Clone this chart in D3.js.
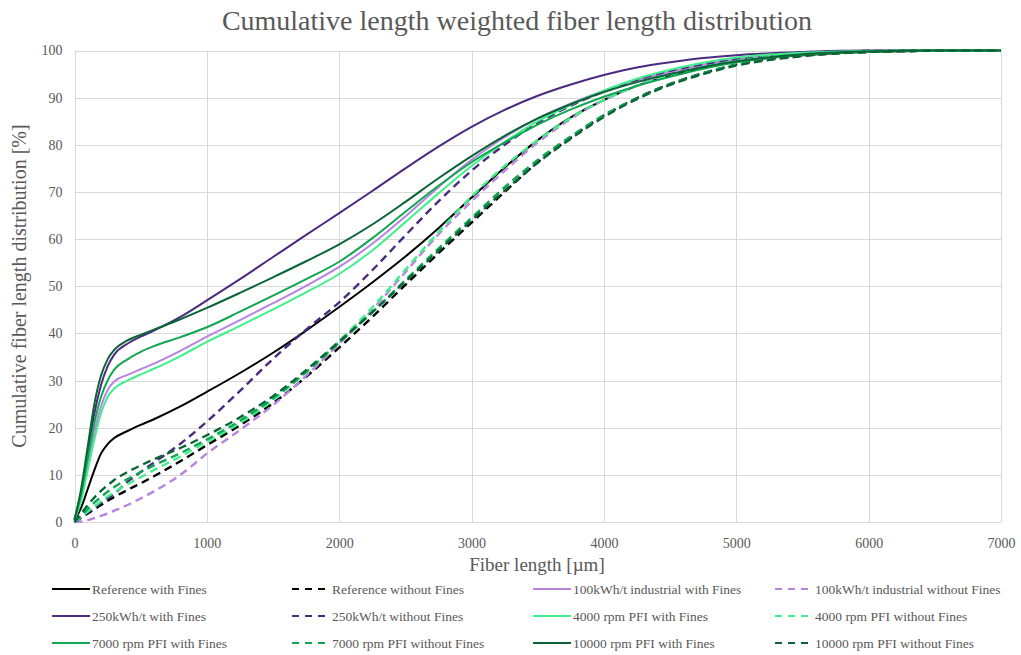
<!DOCTYPE html>
<html>
<head>
<meta charset="utf-8">
<script src="https://cdn.jsdelivr.net/npm/d3@7"></script>
<style>
  html, body { margin: 0; padding: 0; background: #ffffff; }
  svg { display: block; font-family: "Liberation Serif", "Times New Roman", serif; }
</style>
</head>
<body>
<svg id="chart" width="1021" height="655"></svg>
<script>
// Fiber length sample points [µm]
const fiberLength = [0, 50, 100, 150, 200, 250, 300, 400, 500, 600, 800, 1000, 1250, 1500, 1750, 2000,
  2250, 2500, 2750, 3000, 3250, 3500, 3750, 4000, 4250, 4500, 4750, 5000, 5500, 6000, 6500, 7000];

// Cumulative length weighted distribution [%] per pulp
const refWith = [0.5, 3, 7, 11, 14.5, 16.5, 17.8, 19.3, 20.6, 21.8, 24.5, 27.6, 31.6, 35.9, 40.6, 45.6,
  50.8, 56.3, 62.3, 68.8, 75.2, 81, 85.8, 89.5, 92.5, 94.6, 96.3, 97.6, 99, 99.7, 99.9, 100];
const refWithout = [0, 0.9, 1.8, 2.7, 3.6, 4.5, 5.3, 6.8, 8.2, 9.7, 12.9, 16.3, 20.5, 25.2, 30.8, 37,
  43.5, 50.3, 57, 63.5, 70, 76.3, 81.5, 86.2, 89.9, 92.9, 95.2, 97, 98.9, 99.7, 99.95, 100];
const ind100With = [0.5, 5, 12, 19, 24.5, 28, 29.8, 31.2, 32.4, 33.6, 36.3, 39.3, 42.8, 46.4, 50.1, 54.1,
  59, 64.8, 71, 76.8, 81.6, 85.6, 88.8, 91.5, 93.7, 95.5, 97, 98.2, 99.5, 99.9, 100, 100];
const ind100Without = [0, 0.1, 0.4, 0.8, 1.3, 1.8, 2.4, 3.6, 5, 6.5, 10, 14.5, 19.5, 24.8, 31, 37.8,
  45, 53, 61, 68, 74.5, 80.5, 85.5, 89.5, 92.6, 95, 96.8, 98, 99.3, 99.9, 100, 100];
const kwh250With = [0.5, 6, 14.5, 23, 29, 33, 35.5, 37.8, 39.3, 40.6, 43.5, 47, 51.5, 56.2, 60.9, 65.5,
  70.2, 75, 79.6, 83.8, 87.4, 90.4, 92.8, 94.8, 96.4, 97.5, 98.4, 99, 99.7, 100, 100, 100];
const kwh250Without = [0, 1, 2, 3, 4, 5, 6, 8.5, 10.6, 12.6, 16.6, 21.3, 27.8, 34.6, 40.8, 46.6,
  53.4, 60.8, 68, 74.5, 80, 84.6, 88.3, 91.3, 93.8, 95.7, 97.1, 98.2, 99.5, 99.9, 100, 100];
const pfi4000With = [0.5, 4.5, 11, 17.5, 23, 26.5, 28.3, 30, 31.3, 32.5, 35.2, 38.2, 41.6, 45.1, 48.7, 52.6,
  57.6, 63.6, 69.7, 75.5, 80.6, 85, 88.5, 91.5, 94, 95.9, 97.4, 98.5, 99.5, 99.9, 100, 100];
const pfi4000Without = [0, 1.1, 2.2, 3.3, 4.4, 5.4, 6.3, 8, 9.5, 11, 13.9, 17, 21, 25.9, 31.8, 38.4,
  45.5, 53.5, 61.5, 69, 75.5, 81, 85.7, 89.5, 92.5, 94.8, 96.5, 97.8, 99.2, 99.8, 100, 100];
const pfi7000With = [0.5, 6, 13.5, 21, 26.5, 30, 32.3, 34.5, 36.1, 37.3, 39.2, 41.3, 44.6, 48, 51.5, 55.2,
  60.2, 65.8, 71.3, 76.3, 80.5, 84.3, 87.5, 90.2, 92.5, 94.4, 96.1, 97.5, 99.1, 99.8, 100, 100];
const pfi7000Without = [0, 1.4, 2.8, 4.1, 5.3, 6.4, 7.4, 9.1, 10.6, 12, 14.6, 17.5, 21.5, 26.2, 31.8, 38,
  44.5, 51.3, 58, 64.5, 71, 76.8, 81.8, 86.3, 89.9, 92.9, 95.2, 97, 98.9, 99.7, 99.95, 100];
const pfi10000With = [0.5, 7, 16, 25, 31, 34.5, 36.5, 38.5, 39.7, 40.8, 43, 45.4, 48.6, 51.9, 55.3, 58.9,
  63.1, 67.9, 72.9, 77.6, 81.9, 85.6, 88.6, 91.2, 93.3, 95, 96.5, 97.7, 99.2, 99.8, 100, 100];
const pfi10000Without = [0, 1.8, 3.6, 5.2, 6.6, 7.8, 8.9, 10.6, 12, 13.3, 15.7, 18.4, 22.2, 26.7, 32.2, 38.3,
  44.5, 51, 57.5, 64, 70.3, 76.2, 81.3, 85.9, 89.7, 92.7, 95, 96.8, 98.8, 99.7, 99.95, 100];

// Series names, in legend order (row by row)
const seriesNames = [
  "Reference with Fines", "Reference without Fines",
  "100kWh/t industrial with Fines", "100kWh/t industrial without Fines",
  "250kWh/t with Fines", "250kWh/t without Fines",
  "4000 rpm  PFI with Fines", "4000 rpm  PFI without Fines",
  "7000 rpm  PFI with Fines", "7000 rpm  PFI without Fines",
  "10000 rpm  PFI with Fines", "10000 rpm  PFI without Fines"
];
const seriesValues = [refWith, refWithout, ind100With, ind100Without, kwh250With, kwh250Without,
  pfi4000With, pfi4000Without, pfi7000With, pfi7000Without, pfi10000With, pfi10000Without];
const seriesColors = ["#000000", "#000000", "#b784e0", "#b784e0", "#4b2a80", "#4b2a80",
  "#3ff08a", "#3ff08a", "#10a652", "#10a652", "#0b6436", "#0b6436"];

const xTicks = [0, 1000, 2000, 3000, 4000, 5000, 6000, 7000];
const yTicks = [0, 10, 20, 30, 40, 50, 60, 70, 80, 90, 100];

const textColor = "#595959";
const gridColor = "#d9d9d9";
const plot = { left: 74.5, right: 1001, top: 50.5, bottom: 522 };

const svg = d3.select("#chart");
svg.append("rect").attr("width", 1021).attr("height", 655).attr("fill", "#ffffff");

const x = d3.scaleLinear().domain([0, 7000]).range([plot.left, plot.right]);
const y = d3.scaleLinear().domain([0, 100]).range([plot.bottom, plot.top]);

// Gridlines
const grid = svg.append("g");
grid.selectAll("line.h").data(yTicks).join("line")
  .attr("x1", plot.left).attr("x2", plot.right)
  .attr("y1", d => Math.round(y(d)) + 0.5).attr("y2", d => Math.round(y(d)) + 0.5)
  .attr("stroke", gridColor).attr("stroke-width", 1);
grid.selectAll("line.v").data(xTicks).join("line")
  .attr("x1", d => Math.round(x(d)) + 0.5).attr("x2", d => Math.round(x(d)) + 0.5)
  .attr("y1", plot.top).attr("y2", plot.bottom)
  .attr("stroke", gridColor).attr("stroke-width", 1);

// Axes (tick labels only, Excel-style)
const xAxis = svg.append("g").attr("transform", `translate(0,${plot.bottom})`)
  .call(d3.axisBottom(x).tickValues(xTicks).tickSize(0).tickPadding(16).tickFormat(d3.format("d")));
const yAxis = svg.append("g").attr("transform", `translate(${plot.left},0)`)
  .call(d3.axisLeft(y).tickValues(yTicks).tickSize(0).tickPadding(12).tickFormat(d3.format("d")));
[xAxis, yAxis].forEach(a => {
  a.select(".domain").remove();
  a.selectAll("text").attr("fill", textColor).style("font-size", "14px")
    .style("font-family", "'Liberation Serif', serif");
});

// Lines
const line = d3.line()
  .x((d, i) => x(fiberLength[i]))
  .y(d => y(d))
  .curve(d3.curveMonotoneX);

const lines = svg.append("g");
seriesValues.forEach((vals, i) => {
  const dashed = i % 2 === 1;
  lines.append("path")
    .datum(vals)
    .attr("d", line)
    .attr("fill", "none")
    .attr("stroke", seriesColors[i])
    .attr("stroke-width", dashed ? 2.4 : 2)
    .attr("stroke-dasharray", dashed ? "8,5" : null)
    .attr("stroke-linejoin", "round");
});

// Title
svg.append("text")
  .attr("x", 517).attr("y", 30)
  .attr("text-anchor", "middle")
  .attr("fill", textColor)
  .style("font-size", "28px")
  .text("Cumulative length weighted fiber length distribution");

// Axis titles
svg.append("text")
  .attr("x", 537).attr("y", 571)
  .attr("text-anchor", "middle")
  .attr("fill", textColor)
  .style("font-size", "19px")
  .text("Fiber length [µm]");

svg.append("text")
  .attr("transform", "translate(26,286) rotate(-90)")
  .attr("text-anchor", "middle")
  .attr("fill", textColor)
  .style("font-size", "20px")
  .text("Cumulative  fiber length distribution [%]");

// Legend: 3 rows x 4 columns
const legendCols = [52, 292, 533, 775];
const legendRows = [589, 616, 643];
const legend = svg.append("g");
seriesNames.forEach((name, i) => {
  const row = Math.floor(i / 4), col = i % 4;
  const lx = legendCols[col], ly = legendRows[row];
  const dashed = i % 2 === 1;
  legend.append("line")
    .attr("x1", lx).attr("x2", lx + 38)
    .attr("y1", ly).attr("y2", ly)
    .attr("stroke", seriesColors[i])
    .attr("stroke-width", 2)
    .attr("stroke-dasharray", dashed ? "7,6" : null);
  legend.append("text")
    .attr("x", lx + 40).attr("y", ly + 4.5)
    .attr("fill", textColor)
    .style("font-size", "13.5px")
    .text(name);
});
</script>
</body>
</html>
